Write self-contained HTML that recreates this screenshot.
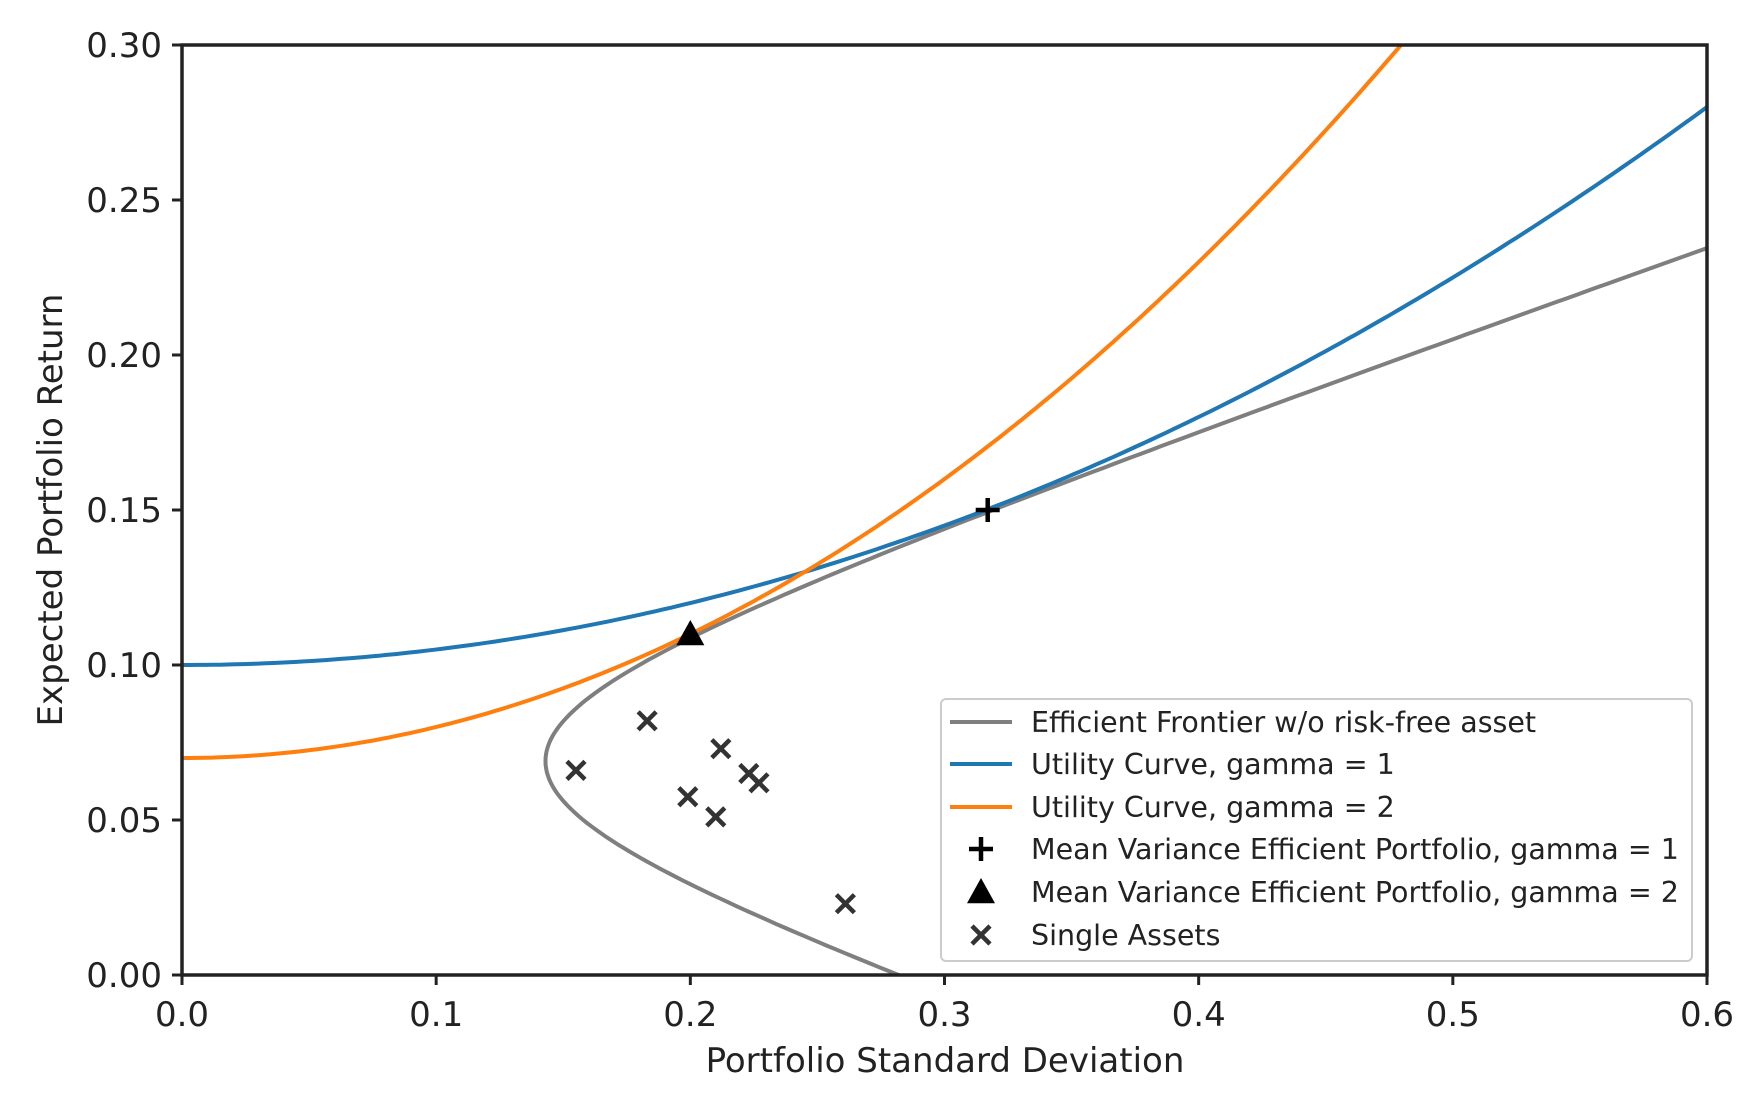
<!DOCTYPE html>
<html><head><meta charset="utf-8"><style>
body{margin:0;background:#fff}
svg{display:block;font-family:"DejaVu Sans","Liberation Sans",sans-serif}
</style></head><body>
<svg id="chart" width="1757" height="1110"></svg>
<script>
const xTicks=[0,0.1,0.2,0.3,0.4,0.5,0.6];
const xTickLabels=["0.0","0.1","0.2","0.3","0.4","0.5","0.6"];
const yTicks=[0,0.05,0.1,0.15,0.2,0.25,0.3];
const yTickLabels=["0.00","0.05","0.10","0.15","0.20","0.25","0.30"];
const utilIntercepts=[0.10,0.07];
const utilGammas=[1,2];
const utilColors=["#1f77b4","#ff7f0e"];
const frontierMinSd=[0.143];
const frontierMinRet=[0.069];
const frontierCurv=[12.4];
const mvpX=[0.317,0.2];
const mvpY=[0.15,0.11];
const assetX=[0.155,0.183,0.199,0.210,0.212,0.223,0.227,0.261];
const assetY=[0.066,0.082,0.0575,0.051,0.073,0.065,0.062,0.023];
const legendLabels=["Efficient Frontier w/o risk-free asset","Utility Curve, gamma = 1","Utility Curve, gamma = 2","Mean Variance Efficient Portfolio, gamma = 1","Mean Variance Efficient Portfolio, gamma = 2","Single Assets"];

const L=182,R=1707,T=45,B=975;
const sx=v=>L+v/0.6*(R-L), sy=v=>B-v/0.3*(B-T);
const svg=document.getElementById('chart');
const NS='http://www.w3.org/2000/svg';
function mk(t,a,p){const e=document.createElementNS(NS,t);for(const k in a)e.setAttribute(k,a[k]);(p||svg).appendChild(e);return e;}
const defs=mk('defs',{});const cp=mk('clipPath',{id:'cp'},defs);mk('rect',{x:L,y:T,width:R-L,height:B-T},cp);
const g=mk('g',{'clip-path':'url(#cp)'});

let d='';
for(let i=0;i<=300;i++){const mu=-0.05+i*0.35/300;const sd=Math.sqrt(frontierCurv[0]*(mu-frontierMinRet[0])**2+frontierMinSd[0]**2);d+=(i?'L':'M')+sx(sd).toFixed(1)+','+sy(mu).toFixed(1);}
let e=mk('path',{d:d,fill:'none',stroke:'#7f7f7f','stroke-width':4},g);


utilIntercepts.forEach((c,k)=>{let d='';for(let i=0;i<=200;i++){const x=i*0.6/200;const y=c+utilGammas[k]*x*x/2;d+=(i?'L':'M')+sx(x).toFixed(1)+','+sy(y).toFixed(1);}
const p=mk('path',{d:d,fill:'none',stroke:utilColors[k],'stroke-width':4},g);

});
function xm(x,y,s,par){const gg=mk('g',{stroke:'#333','stroke-width':4.5},par);mk('line',{x1:x-s,y1:y-s,x2:x+s,y2:y+s},gg);mk('line',{x1:x-s,y1:y+s,x2:x+s,y2:y-s},gg);return gg;}
assetX.forEach((v,i)=>{const m=xm(sx(v),sy(assetY[i]),9,g);

});
function plus(x,y,s,par){const gg=mk('g',{stroke:'#000','stroke-width':4.5},par);mk('line',{x1:x-s,y1:y,x2:x+s,y2:y},gg);mk('line',{x1:x,y1:y-s,x2:x,y2:y+s},gg);return gg;}
function tri(x,y,s,par){return mk('polygon',{points:`${x},${y-s} ${x-s},${y+s*0.8} ${x+s},${y+s*0.8}`,fill:'#000'},par);}
let m1=plus(sx(mvpX[0]),sy(mvpY[0]),12,g);


let m2=tri(sx(mvpX[1]),sy(mvpY[1]),14,g);



mk('rect',{x:L,y:T,width:R-L,height:B-T,fill:'none',stroke:'#222','stroke-width':3.5});
xTicks.forEach((v,i)=>{mk('line',{x1:sx(v),y1:B,x2:sx(v),y2:B+10,stroke:'#222','stroke-width':3});
const t=mk('text',{x:sx(v),y:B+51,'text-anchor':'middle','font-size':34,fill:'#222'});t.textContent=xTickLabels[i];

});
yTicks.forEach((v,i)=>{mk('line',{x1:L-10,y1:sy(v),x2:L,y2:sy(v),stroke:'#222','stroke-width':3});
const t=mk('text',{x:L-20,y:sy(v)+12,'text-anchor':'end','font-size':34,fill:'#222'});t.textContent=yTickLabels[i];

});
let xl=mk('text',{x:945,y:1072,'text-anchor':'middle','font-size':34,fill:'#222'});xl.textContent='Portfolio Standard Deviation';


let yl=mk('text',{x:62,y:510,'text-anchor':'middle','font-size':34,fill:'#222',transform:'rotate(-90 62 510)'});yl.textContent='Expected Portfolio Return';



const lg=mk('g',{});


mk('rect',{x:941,y:699,width:751,height:262,rx:5,fill:'#fff',stroke:'#ccc','stroke-width':2},lg);
const ly=[722,764,807,849,892,935];
legendLabels.forEach((lab,i)=>{const y=ly[i];
if(i==0)mk('line',{x1:950,y1:y,x2:1012,y2:y,stroke:'#7f7f7f','stroke-width':4},lg);
if(i==1||i==2)mk('line',{x1:950,y1:y,x2:1012,y2:y,stroke:utilColors[i-1],'stroke-width':4},lg);
if(i==3)plus(981,y,12,lg);
if(i==4)tri(981,y,14,lg);
if(i==5)xm(981,y,9,lg);
const t=mk('text',{x:1031,y:y+10,'font-size':28.5,fill:'#222'},lg);t.textContent=lab;

});
</script>
</body></html>
